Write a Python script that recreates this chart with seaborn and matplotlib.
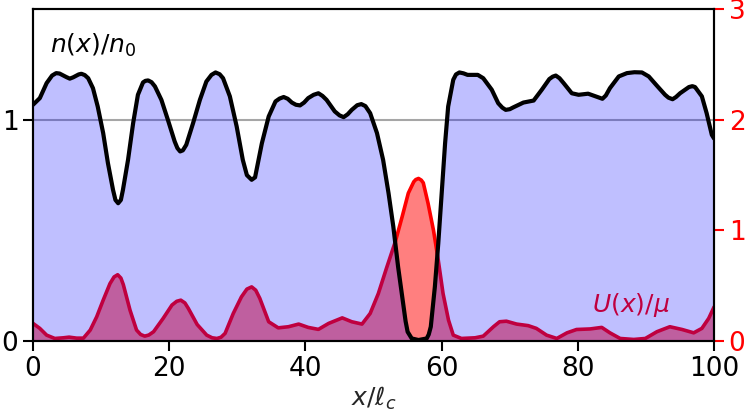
import numpy as np
import pandas as pd
import matplotlib
matplotlib.use("Agg")
import matplotlib.pyplot as plt
import seaborn as sns

# density n(x)/n0
x_n = [0.0, 1.0, 2.0, 2.8, 3.4, 3.9, 4.4, 4.9, 5.4, 5.9, 6.4, 6.7, 7.1, 7.6, 8.1, 8.8,
       9.5, 10.3, 11.0, 11.75, 12.1, 12.5, 12.9, 13.2, 13.95, 14.7, 15.4, 16.15, 16.5,
       16.9, 17.4, 17.9, 18.85, 19.8, 20.8, 21.2, 21.6, 22.0, 22.5, 23.5, 24.5, 25.45,
       26.2, 26.8, 27.4, 27.9, 28.9, 29.9, 30.8, 31.4, 32.1, 32.6, 33.6, 34.6, 35.6,
       36.2, 36.8, 37.4, 38.0, 38.6, 39.2, 39.8, 40.4, 41.2, 41.9, 42.5, 43.1, 44.3,
       45.0, 45.6, 46.2, 46.8, 47.6, 48.2, 48.8, 49.5, 50.5, 51.4, 52.2, 52.9, 53.6,
       54.4, 54.7, 55.0, 55.6, 56.6, 57.8, 58.1, 58.4, 59.0, 59.5, 60.0, 60.5, 60.95,
       61.7, 62.1, 62.6, 63.2, 63.8, 65.3, 66.1, 67.35, 68.3, 68.9, 69.4, 70.0, 70.5,
       72.0, 73.5, 74.7, 75.8, 76.3, 76.75, 77.3, 77.9, 79.1, 80.1, 81.5, 82.6, 83.6,
       84.1, 84.7, 86.0, 87.2, 88.3, 89.4, 90.4, 91.6, 92.8, 93.3, 93.9, 94.4, 95.0,
       96.3, 96.8, 97.2, 98.2, 98.9, 99.66, 100.0]
n_vals = [1.068, 1.098, 1.166, 1.200, 1.211, 1.209, 1.201, 1.193, 1.186, 1.192, 1.200,
          1.205, 1.208, 1.202, 1.188, 1.143, 1.060, 0.940, 0.804, 0.683, 0.638, 0.623,
          0.638, 0.683, 0.819, 0.985, 1.113, 1.169, 1.176, 1.178, 1.170, 1.151, 1.090,
          1.000, 0.902, 0.872, 0.857, 0.862, 0.887, 0.985, 1.090, 1.173, 1.203, 1.214,
          1.206, 1.188, 1.106, 0.970, 0.819, 0.750, 0.729, 0.740, 0.894, 1.015, 1.083,
          1.096, 1.103, 1.095, 1.078, 1.068, 1.065, 1.078, 1.098, 1.113, 1.120, 1.108,
          1.090, 1.038, 1.020, 1.012, 1.025, 1.045, 1.066, 1.071, 1.062, 1.030, 0.940,
          0.819, 0.668, 0.517, 0.336, 0.155, 0.090, 0.042, 0.012, 0.005, 0.012, 0.030,
          0.065, 0.246, 0.442, 0.668, 0.894, 1.060, 1.181, 1.205, 1.214, 1.210, 1.203,
          1.203, 1.188, 1.136, 1.075, 1.055, 1.045, 1.048, 1.056, 1.078, 1.087, 1.136,
          1.184, 1.195, 1.200, 1.188, 1.166, 1.120, 1.113, 1.118, 1.106, 1.095, 1.110,
          1.143, 1.196, 1.211, 1.215, 1.214, 1.196, 1.154, 1.113, 1.100, 1.093, 1.103,
          1.120, 1.148, 1.152, 1.148, 1.106, 1.030, 0.932, 0.915]

# potential U(x)/mu
x_u = [0.0, 1.0, 2.0, 3.2, 4.45, 5.3, 6.4, 7.4, 8.4, 9.35, 10.3, 11.3, 11.9, 12.43, 12.9,
       13.26, 14.24, 15.2, 15.8, 16.4, 17.0, 17.7, 19.1, 20.4, 21.1, 21.7, 22.3, 22.8,
       24.1, 25.5, 26.3, 27.0, 27.6, 28.2, 29.4, 30.6, 31.4, 32.1, 32.7, 33.3, 34.6,
       36.0, 37.5, 39.0, 40.4, 41.9, 43.4, 45.4, 46.8, 48.3, 49.5, 50.7, 51.9, 53.2,
       54.2, 55.1, 55.9, 56.2, 56.6, 57.0, 57.3, 58.0, 58.8, 59.5, 60.2, 61.0, 61.7,
       62.9, 64.9, 66.1, 67.6, 68.5, 69.5, 71.0, 72.7, 73.9, 75.4, 76.9, 78.4, 79.8,
       81.8, 83.5, 84.7, 86.2, 88.2, 89.9, 91.6, 93.5, 95.3, 97.0, 98.2, 99.2, 100.0]
u_vals = [0.16, 0.115, 0.054, 0.024, 0.030, 0.036, 0.027, 0.027, 0.10, 0.22, 0.37, 0.52,
          0.58, 0.60, 0.57, 0.51, 0.28, 0.10, 0.06, 0.045, 0.055, 0.085, 0.205, 0.326,
          0.36, 0.37, 0.345, 0.296, 0.15, 0.054, 0.03, 0.024, 0.035, 0.07, 0.25, 0.40,
          0.47, 0.49, 0.46, 0.386, 0.175, 0.12, 0.13, 0.154, 0.124, 0.106, 0.16, 0.21,
          0.175, 0.154, 0.25, 0.43, 0.66, 0.90, 1.125, 1.337, 1.44, 1.46, 1.47, 1.455,
          1.43, 1.245, 1.0, 0.73, 0.43, 0.19, 0.054, 0.024, 0.03, 0.045, 0.13, 0.175,
          0.18, 0.154, 0.14, 0.115, 0.054, 0.024, 0.075, 0.105, 0.11, 0.124, 0.075,
          0.024, 0.015, 0.024, 0.085, 0.13, 0.105, 0.075, 0.115, 0.205, 0.31]

x_ticks = [0, 20, 40, 60, 80, 100]
left_ticks = [0, 1]
right_ticks = [0, 1, 2, 3]

df_n = pd.DataFrame({"x": x_n, "n": n_vals})
df_u = pd.DataFrame({"x": x_u, "U": u_vals})

sns.set_style("ticks")
plt.rcParams["font.family"] = ["DejaVu Sans"]
plt.rcParams["mathtext.fontset"] = "dejavusans"
FS = 19

fig = plt.figure(figsize=(7.47, 4.16), dpi=100)
ax1 = fig.add_axes([0.0442, 0.180, 0.9118, 0.798])
ax2 = ax1.twinx()

# potential on the right axis, underneath
ax1.set_zorder(2)
ax1.patch.set_visible(False)
ax2.set_zorder(1)

ax2.fill_between(df_u["x"], 0, df_u["U"], color="red", alpha=0.5, linewidth=0)
sns.lineplot(data=df_u, x="x", y="U", ax=ax2, color="red",
             estimator=None, sort=False)
ax2.text(82.0, 0.33, r"$U(x)/\mu$", color="red", fontsize=18, ha="left", va="center")
ax2.set_ylim(0, 3)
ax2.set_yticks(right_ticks)
ax2.set_ylabel("")
ax2.tick_params(axis="y", colors="red", labelsize=FS, length=7, width=1.5)
for lab in ax2.get_yticklabels():
    lab.set_color("red")

# density on the left axis, on top
ax1.axhline(1.0, color="0.65", linewidth=1.5, zorder=1)
ax1.fill_between(df_n["x"], 0, df_n["n"], color="blue", alpha=0.25, linewidth=0, zorder=2)
sns.lineplot(data=df_n, x="x", y="n", ax=ax1, color="black",
             estimator=None, sort=False, zorder=3)
ax1.text(2.5, 1.335, r"$n(x)/n_0$", color="black", fontsize=18, ha="left", va="center")
ax1.set_xlim(0, 100)
ax1.set_ylim(0, 1.5)
ax1.set_xticks(x_ticks)
ax1.set_yticks(left_ticks)
ax1.set_xlabel(r"$x/\ell_c$", fontsize=18, labelpad=2)
ax1.set_ylabel("")
ax1.tick_params(axis="both", colors="black", labelsize=FS, length=7, width=1.5)

for ax in (ax1, ax2):
    for s in ax.spines.values():
        s.set_visible(True)
        s.set_color("black")
        s.set_linewidth(1.5)

# thick, round-jointed curves
for line in ax2.get_lines():
    line.set_linewidth(2.6)
    line.set_solid_joinstyle("round")
    line.set_solid_capstyle("round")
ln = ax1.get_lines()[-1]
ln.set_linewidth(3.0)
ln.set_solid_joinstyle("round")
ln.set_solid_capstyle("round")

fig.savefig("out.png", dpi=100)
